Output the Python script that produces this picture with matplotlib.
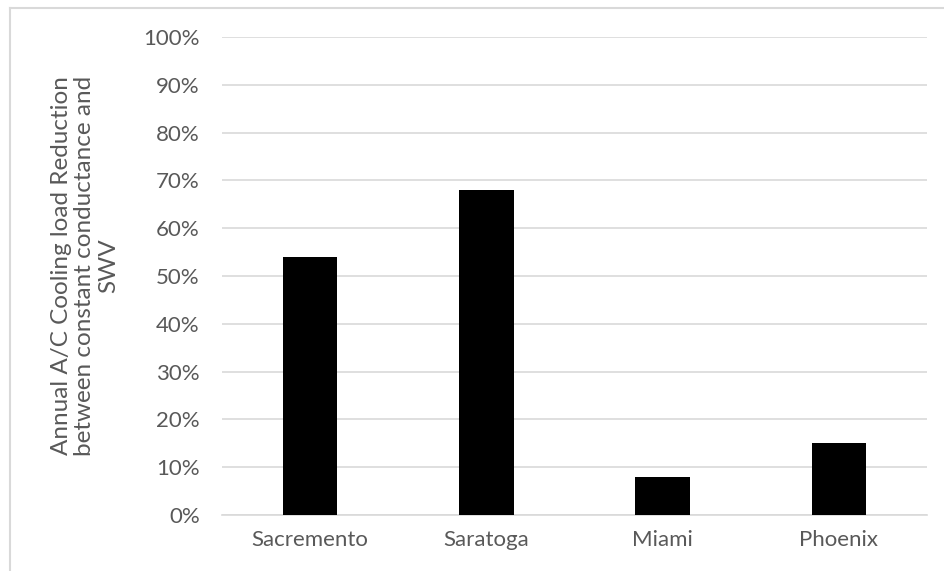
import numpy as np
import matplotlib.pyplot as plt
from matplotlib.lines import Line2D
from matplotlib.ticker import PercentFormatter

# ------------------------------------------------------------
# Annual A/C cooling load reduction, constant conductance vs SWV
# ------------------------------------------------------------
CITIES = ["Sacremento", "Saratoga", "Miami", "Phoenix"]
REDUCTION = [0.54, 0.68, 0.08, 0.15]
Y_TICKS = [0.0, 0.1, 0.2, 0.3, 0.4, 0.5, 0.6, 0.7, 0.8, 0.9, 1.0]
Y_LABEL = "Annual A/C Cooling load Reduction\nbetween constant conductance and\nSWV"

TEXT_COLOR = "#595959"
GRID_COLOR = "#d9d9d9"
FONT = ["Lato", "DejaVu Sans"]

W, H = 945, 571
DPI = 100

plt.rcParams["font.family"] = FONT

fig = plt.figure(figsize=(W / DPI, H / DPI), dpi=DPI)
ax = fig.add_axes([222 / W, 1 - 515 / H, (927 - 222) / W, (515 - 37) / H])

x = np.arange(len(CITIES))
ax.bar(x, REDUCTION, width=0.31, color="black", zorder=3)

ax.set_xlim(-0.5, len(CITIES) - 0.5)
ax.set_ylim(0, 1.0)
ax.set_yticks(Y_TICKS)
ax.yaxis.set_major_formatter(PercentFormatter(xmax=1.0, decimals=0))
ax.set_xticks(x)
ax.set_xticklabels(CITIES)

ax.grid(axis="y", color=GRID_COLOR, linewidth=1.2, zorder=0)
ax.set_axisbelow(True)
for side in ["top", "right", "left"]:
    ax.spines[side].set_visible(False)
ax.spines["bottom"].set_color(GRID_COLOR)
ax.spines["bottom"].set_linewidth(1.2)
ax.tick_params(axis="both", length=0, colors=TEXT_COLOR, labelsize=16)
ax.tick_params(axis="y", pad=16)
ax.tick_params(axis="x", pad=11)

fig.text(85 / W, 1 - 266 / H, Y_LABEL, rotation=90, ha="center", va="center",
         fontsize=17.5, color=TEXT_COLOR, linespacing=1.15)

# chart area border (only top and left are visible in the crop)
fig.add_artist(Line2D([10 / W, 1.0], [1 - 8 / H, 1 - 8 / H], transform=fig.transFigure,
                      color=GRID_COLOR, linewidth=1.5))
fig.add_artist(Line2D([10 / W, 10 / W], [0.0, 1 - 8 / H], transform=fig.transFigure,
                      color=GRID_COLOR, linewidth=1.5))

fig.savefig("out.png", dpi=DPI)
